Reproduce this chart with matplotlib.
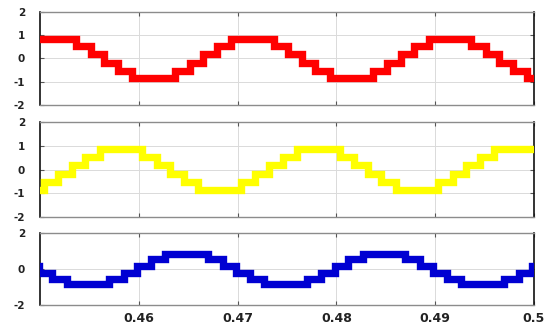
import matplotlib
matplotlib.use("Agg")
import matplotlib.pyplot as plt

# Staircase phase voltages (p.u.): switching instants (s) and held levels
red_edges = [0.4485, 0.44934, 0.45366, 0.45513, 0.4565, 0.45787, 0.45934,
             0.46366, 0.46513, 0.4665, 0.46787, 0.46934,
             0.47366, 0.47513, 0.4765, 0.47787, 0.47934,
             0.48366, 0.48513, 0.4865, 0.48787, 0.48934,
             0.49366, 0.49513, 0.4965, 0.49787, 0.49934, 0.5010]
red_levels = [0.55, 0.85, 0.55, 0.2, -0.2, -0.55, -0.85,
              -0.55, -0.2, 0.2, 0.55, 0.85,
              0.55, 0.2, -0.2, -0.55, -0.85,
              -0.55, -0.2, 0.2, 0.55, 0.85,
              0.55, 0.2, -0.2, -0.55, -0.85]

yellow_edges = [0.4455, 0.44601, 0.45033, 0.4518, 0.45317, 0.45454, 0.45601,
                0.46033, 0.4618, 0.46317, 0.46454, 0.46601,
                0.47033, 0.4718, 0.47317, 0.47454, 0.47601,
                0.48033, 0.4818, 0.48317, 0.48454, 0.48601,
                0.49033, 0.4918, 0.49317, 0.49454, 0.49601, 0.5010]
yellow_levels = [-0.55, -0.85, -0.55, -0.2, 0.2, 0.55, 0.85,
                 0.55, 0.2, -0.2, -0.55, -0.85,
                 -0.55, -0.2, 0.2, 0.55, 0.85,
                 0.55, 0.2, -0.2, -0.55, -0.85,
                 -0.55, -0.2, 0.2, 0.55, 0.85]

blue_edges = [0.4465, 0.44846, 0.44983, 0.4512, 0.45267,
              0.45699, 0.45846, 0.45983, 0.4612, 0.46267,
              0.46699, 0.46846, 0.46983, 0.4712, 0.47267,
              0.47699, 0.47846, 0.47983, 0.4812, 0.48267,
              0.48699, 0.48846, 0.48983, 0.4912, 0.49267,
              0.49699, 0.49846, 0.49983, 0.5010]
blue_levels = [0.55, 0.2, -0.2, -0.55, -0.85,
               -0.55, -0.2, 0.2, 0.55, 0.85,
               0.55, 0.2, -0.2, -0.55, -0.85,
               -0.55, -0.2, 0.2, 0.55, 0.85,
               0.55, 0.2, -0.2, -0.55, -0.85,
               -0.55, -0.2, 0.2]

x_ticks = [0.46, 0.47, 0.48, 0.49, 0.50]
x_tick_labels = ["0.46", "0.47", "0.48", "0.49", "0.5"]
y_ticks_full = [-2, -1, 0, 1, 2]
y_ticks_short = [-2, 0, 2]

fig = plt.figure(figsize=(5.49, 3.34), dpi=100)
fig.patch.set_facecolor("white")

panels = [
    ([0.0734, 0.6856, 0.899, 0.2793], red_edges, red_levels, "#ff0000", y_ticks_full),
    ([0.0734, 0.3512, 0.899, 0.2826], yellow_edges, yellow_levels, "#ffff00", y_ticks_full),
    ([0.0734, 0.0868, 0.899, 0.2147], blue_edges, blue_levels, "#0000d2", y_ticks_short),
]

for i, (rect, edges, levels, color, yt) in enumerate(panels):
    ax = fig.add_axes(rect)
    ax.stairs(levels, edges, baseline=None, color=color, linewidth=5.3,
              zorder=3)
    ax.set_xlim(0.45, 0.50)
    ax.set_ylim(-2, 2)
    ax.set_xticks(x_ticks)
    ax.set_yticks(yt)
    ax.set_yticklabels([str(v) for v in yt])
    if i == 2:
        ax.set_xticklabels(x_tick_labels)
    else:
        ax.set_xticklabels([])
    ax.grid(True, color="#dadada", linewidth=0.7)
    ax.set_axisbelow(True)
    ax.tick_params(axis="both", direction="in", length=3, width=0.8,
                   top=True, right=True, color="#555555")
    ax.tick_params(axis="y", pad=11, labelsize=7.5)
    ax.tick_params(axis="x", pad=5, labelsize=9)
    for lab in ax.get_xticklabels() + ax.get_yticklabels():
        lab.set_fontweight("bold")
        lab.set_color("#222222")
    for side in ("top", "bottom"):
        ax.spines[side].set_color("#8c8c8c")
        ax.spines[side].set_linewidth(1.0)
    for side in ("left", "right"):
        ax.spines[side].set_color("#111111")
        ax.spines[side].set_linewidth(1.2)

fig.savefig("out.png", dpi=100, facecolor="white")
